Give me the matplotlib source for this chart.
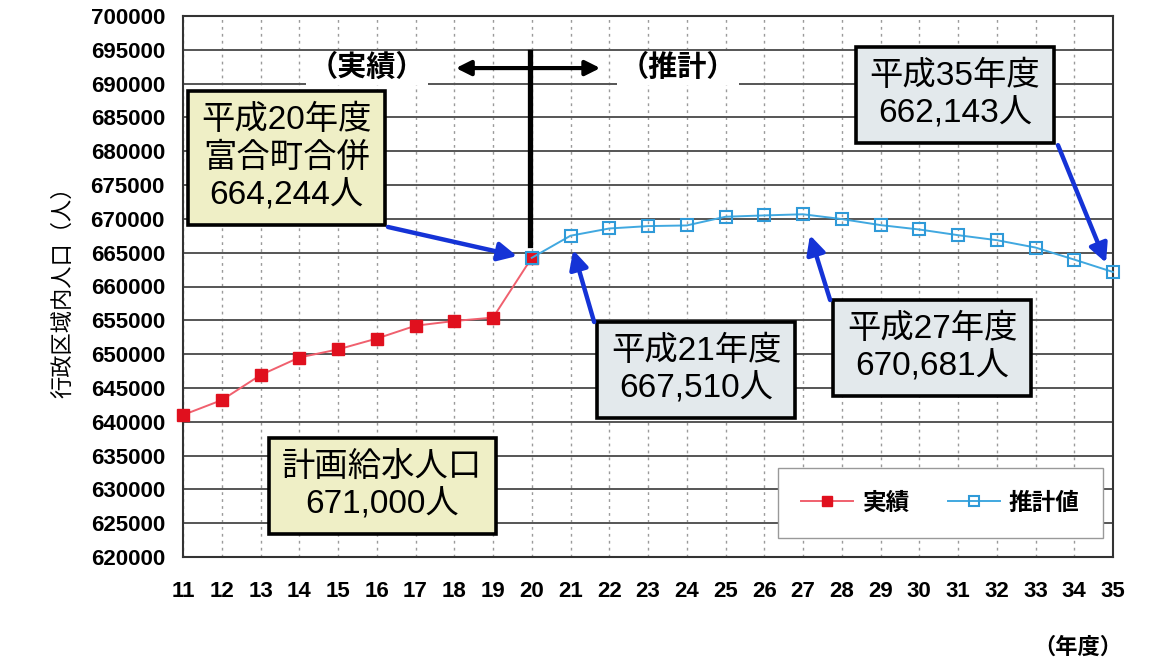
import matplotlib.pyplot as plt

# data (平成 year, population)
actual_years = [11, 12, 13, 14, 15, 16, 17, 18, 19, 20]
actual = [641000, 643200, 646900, 649500, 650700, 652300, 654200, 654900, 655400, 664244]
est_years = [20, 21, 22, 23, 24, 25, 26, 27, 28, 29, 30, 31, 32, 33, 34, 35]
estimate = [664244, 667510, 668580, 668930, 669030, 670315, 670510, 670681,
            669970, 669080, 668430, 667590, 666850, 665760, 663980, 662143]
year_ticks = list(range(11, 36))
pop_ticks = list(range(620000, 700001, 5000))

legend_labels = ['実績', '推計値']
box_texts = ['平成20年度\n富合町合併\n664,244人',
             '平成21年度\n667,510人',
             '平成27年度\n670,681人',
             '平成35年度\n662,143人',
             '計画給水人口\n671,000人']

plt.rcParams['font.family'] = ['Liberation Sans', 'Noto Sans CJK JP']

fig = plt.figure(figsize=(11.52, 6.64), dpi=100)
ax = fig.add_axes([183 / 1152, 1 - 557 / 664, 930 / 1152, 541 / 664])
ax.set_xlim(11, 35)
ax.set_ylim(620000, 700000)
ax.set_xticks(year_ticks)
ax.set_yticks(pop_ticks)
ax.set_xticklabels([str(y) for y in year_ticks], fontsize=16, fontweight='bold')
ax.set_yticklabels([str(p) for p in pop_ticks], fontsize=16, fontweight='bold')
ax.tick_params(axis='x', length=0, pad=17)
ax.tick_params(axis='y', length=0, pad=13)
ax.yaxis.grid(True, color='#555555', lw=1.4)
ax.xaxis.grid(True, color='#9a9a9a', lw=1, ls=(0, (2, 3)))
ax.set_axisbelow(True)
for s in ax.spines.values():
    s.set_color('#333333')
    s.set_linewidth(1.5)

# series
l_red, = ax.plot(actual_years, actual, color='#f0606e', lw=1.4, marker='s', ms=9,
                 mfc='#e0101e', mec='#e0101e', clip_on=False, zorder=4)
l_blue, = ax.plot(est_years, estimate, color='#40a8e0', lw=1.4, marker='s', ms=9,
                  mfc='none', mec='#2f9ad8', mew=1.5, clip_on=False, zorder=5)

ax.set_ylabel('行政区域内人口（人）', fontsize=16, labelpad=12)
fig.text(1078 / 1152, 1 - 648 / 664, '（年度）', fontsize=16, fontweight='bold',
         ha='center', va='center')

# 実績 / 推計 divider
ax.plot([19.95, 19.95], [666100, 694700], color='black', lw=3.8, zorder=6)
ax.annotate('', xy=(17.97, 692300), xytext=(21.84, 692300),
            arrowprops=dict(arrowstyle='<|-|>', color='black', lw=3, mutation_scale=22),
            zorder=6)
ax.text(15.75, 692300, '（実績）', fontsize=21, fontweight='bold', ha='center', va='center',
        bbox=dict(fc='white', ec='none', pad=2))
ax.text(23.77, 692300, '（推計）', fontsize=21, fontweight='bold', ha='center', va='center',
        bbox=dict(fc='white', ec='none', pad=2))

yellow = '#efefc6'
grey = '#e3e9ec'
boxes = [(13.68, 679000, yellow), (24.24, 647650, grey), (30.33, 650900, grey),
         (30.92, 688300, grey), (16.14, 630500, yellow)]
for txt, (bx, by, fc) in zip(box_texts, boxes):
    ax.text(bx, by, txt, fontsize=24, ha='center', va='center', linespacing=1.25, zorder=7,
            bbox=dict(boxstyle='square,pad=0.4', fc=fc, ec='black', lw=2.6))

# blue pointer arrows
arrows = [((16.29, 668800), (19.62, 664500)),
          ((21.61, 654750), (21.07, 665400)),
          ((27.70, 658000), (27.18, 667600)),
          ((33.58, 680900), (34.82, 663500))]
for start, tip in arrows:
    ax.annotate('', xy=tip, xytext=start, zorder=8,
                arrowprops=dict(arrowstyle='-|>', color='#1533d6', lw=3.2, mutation_scale=28,
                                shrinkA=0, shrinkB=0))

leg = ax.legend([l_red, l_blue], legend_labels, loc='center', bbox_to_anchor=(0.8145, 0.0998),
                ncol=2, fancybox=False, edgecolor='#999999', framealpha=1,
                prop={'weight': 'bold', 'size': 17}, handlelength=2.2, columnspacing=1.6,
                borderpad=1.0, handletextpad=0.4, markerscale=0.8)
leg.get_frame().set_linewidth(1)

fig.savefig('out.png', dpi=100)
